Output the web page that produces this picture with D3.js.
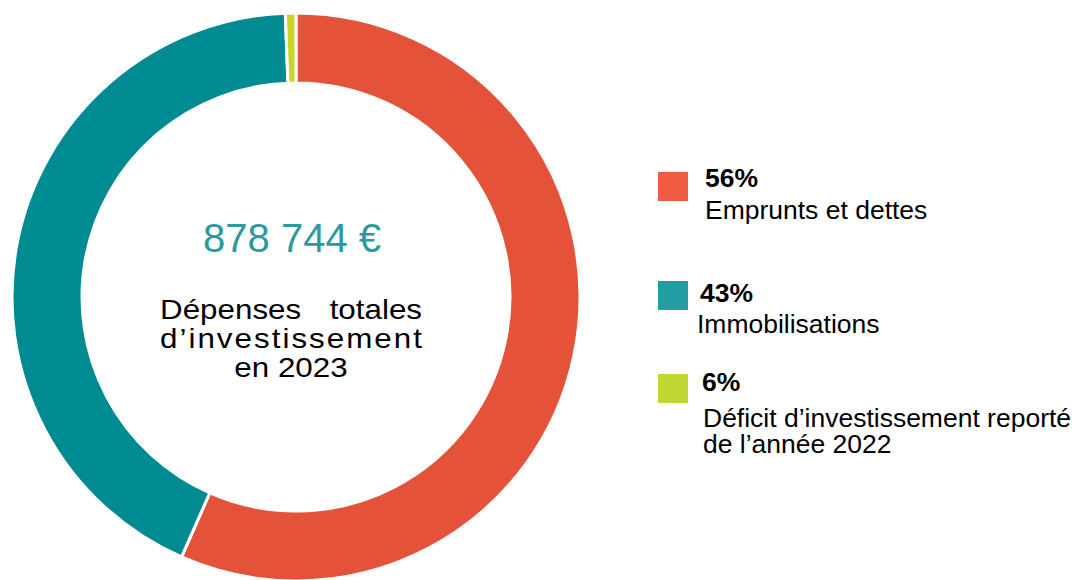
<!DOCTYPE html>
<html>
<head>
<meta charset="utf-8">
<title>Dépenses d'investissement 2023</title>
<script src="https://d3js.org/d3.v7.min.js"></script>
<style>
	body { margin: 0; background: #fff; }
	text { font-family: 'Liberation Sans', Arial, sans-serif; }
</style>
</head>
<body>
<script>
// data
var categories = ["Emprunts et dettes", "Immobilisations", "Déficit d’investissement reporté|de l’année 2022"];
var shares = [56.6, 42.8, 0.6];          // share of the ring
var pctLabels = ["56%", "43%", "6%"];     // labels as printed in the legend
var arcColors = ["#E4523A", "#008A91", "#C8D62B"];
var keyColors = ["#F05A40", "#229DA3", "#BFD730"];
var totalLabel = "878 744 €";
var centerLines = ["Dépenses totales", "d’investissement", "en 2023"];

var W = 1076, H = 580;
var cx = 296, cy = 297, rOut = 284, rIn = 214;
var wide = 1.12;   // the text in the picture is a bit wider than plain Arial

var svg = d3.select("body").append("svg")
	.attr("width", W)
	.attr("height", H);

var pie = d3.pie().sort(null).value(function(d) { return d; });
var arc = d3.arc().innerRadius(rIn).outerRadius(rOut);

var g = svg.append("g").attr("transform", "translate(" + cx + "," + cy + ")");

g.selectAll("path")
	.data(pie(shares))
	.enter().append("path")
	.attr("d", arc)
	.attr("fill", function(d, i) { return arcColors[i]; })
	.attr("stroke", "#fff")
	.attr("stroke-width", 3);

// centre text
g.append("text")
	.attr("x", -4)
	.attr("y", -45)
	.attr("text-anchor", "middle")
	.attr("fill", "#2A9A9E")
	.style("font-size", "40px")
	.text(totalLabel);

function label(parent, x, y, size, sx, anchor) {
	return parent.append("text")
		.attr("transform", "translate(" + x + "," + y + ") scale(" + sx + ",1)")
		.attr("text-anchor", anchor || "start")
		.style("font-size", size + "px")
		.attr("fill", "#000");
}

var words = centerLines[0].split(" ");
label(g, -136, 22, 28, wide).text(words[0]);
label(g, 126, 22, 28, wide, "end").text(words[1]);
label(g, -136, 51, 28, wide)
	.attr("textLength", 262 / wide)
	.attr("lengthAdjust", "spacing")
	.text(centerLines[1]);
label(g, -5, 80, 28, wide, "middle").text(centerLines[2]);

// legend
var keyY = [172, 281, 374];
var pctY = [187, 302, 391];
var nameY = [219, 333, 427];
var pctX = [705, 700, 702];
var nameX = [705, 697, 703];

categories.forEach(function(d, i) {
	svg.append("rect")
		.attr("x", 658).attr("y", keyY[i])
		.attr("width", 30).attr("height", 29)
		.attr("fill", keyColors[i]);

	label(svg, pctX[i], pctY[i], 25, 1.06)
		.style("font-weight", "bold")
		.text(pctLabels[i]);

	d.split("|").forEach(function(l, j) {
		label(svg, nameX[i], nameY[i] + j * 26, 25, 1.06).text(l);
	});
});
</script>
</body>
</html>
